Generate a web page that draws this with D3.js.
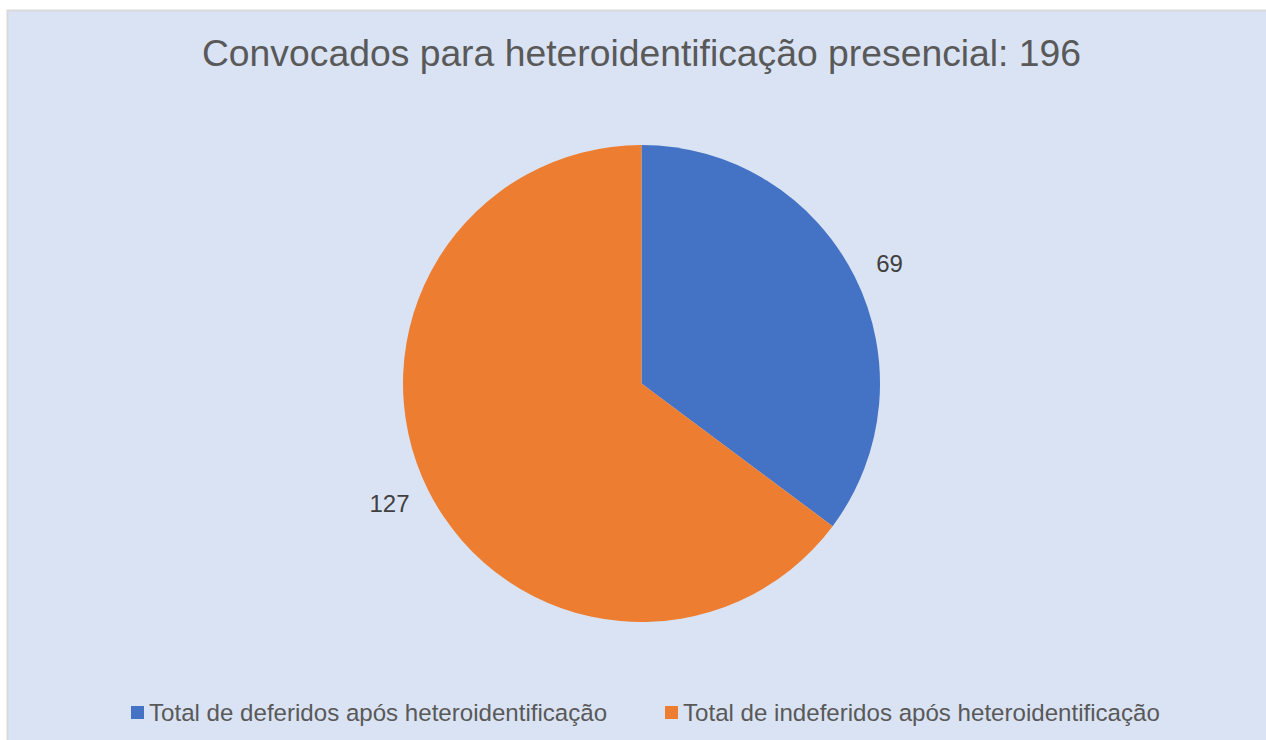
<!DOCTYPE html>
<html>
<head>
<meta charset="utf-8">
<script src="https://cdn.jsdelivr.net/npm/d3@7"></script>
<style>
  html, body { margin: 0; padding: 0; background: #ffffff; }
  svg { display: block; }
  text { font-family: "Liberation Sans", Arial, sans-serif; }
</style>
</head>
<body>
<svg id="chart" width="1266" height="740"></svg>
<script>
const title = "Convocados para heteroidentificação presencial: 196";
const categories = ["Total de deferidos após heteroidentificação", "Total de indeferidos após heteroidentificação"];
const values = [69, 127];
const colors = ["#4472C4", "#ED7D31"];

const W = 1266, H = 740;
const svg = d3.select("#chart");

// chart area
svg.append("rect").attr("x", 7.5).attr("y", 10.5).attr("width", W).attr("height", H)
  .attr("fill", "#DAE3F3").attr("stroke", "#D9D9D9").attr("stroke-width", 2);

// title
svg.append("text").attr("x", 641.5).attr("y", 66).attr("text-anchor", "middle")
  .attr("font-size", 37.3).attr("fill", "#595959").text(title);

// pie
const cx = 641.5, cy = 383.5, r = 238.5;
const g = svg.append("g").attr("transform", `translate(${cx},${cy})`);
const data = categories.map((c, i) => ({ cat: c, value: values[i], color: colors[i] }));
const pie = d3.pie().value(d => d.value).sort(null);
const arcs = pie(data);
const arc = d3.arc().innerRadius(0).outerRadius(r);
g.selectAll("path.slice").data(arcs).enter().append("path")
  .attr("class", "slice").attr("d", arc).attr("fill", d => d.data.color);

const labelArc = d3.arc().innerRadius(r + 30).outerRadius(r + 30);
g.selectAll("text.lbl").data(arcs).enter().append("text")
  .attr("class", "lbl")
  .attr("text-anchor", "middle").attr("dy", "0.35em")
  .attr("font-size", 24).attr("fill", "#404040")
  .text(d => d.data.value)
  .attr("transform", function(d) {
    const [x, y] = labelArc.centroid(d);
    const hw = this.getComputedTextLength() / 2;
    return `translate(${x + Math.sign(x) * hw * 0.6},${y})`;
  });

// legend
const legendX = [131, 665];
const lg = svg.append("g");
data.forEach((d, i) => {
  lg.append("rect").attr("x", legendX[i]).attr("y", 706).attr("width", 13).attr("height", 13).attr("fill", d.color);
  lg.append("text").attr("x", legendX[i] + 18).attr("y", 720.5)
    .attr("font-size", 24.1).attr("fill", "#595959").text(d.cat);
});
</script>
</body>
</html>
